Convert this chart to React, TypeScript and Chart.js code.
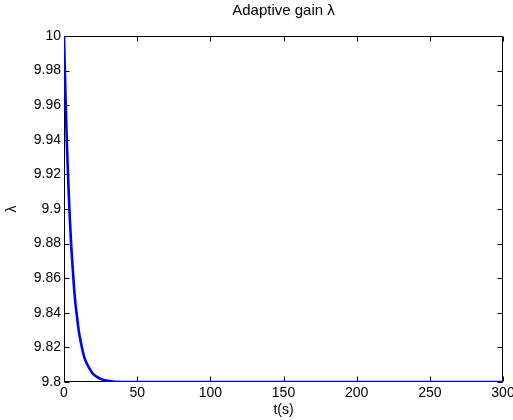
import React, { useEffect, useRef } from "react";
import { Chart, registerables } from "chart.js";

Chart.register(...registerables);

const titleText = "Adaptive gain λ";
const xLabel = "t(s)";
const yLabel = "λ";

const tValues = [0, 1, 2, 3, 4, 5, 6, 7, 8, 9, 10, 12, 14, 16, 18, 20, 25, 30, 40, 300];
const lambdaValues = [
  10, 9.966, 9.937, 9.914, 9.894, 9.878, 9.865, 9.853, 9.844, 9.837, 9.83, 9.821, 9.814, 9.81,
  9.807, 9.8045, 9.8018, 9.8007, 9.8, 9.8,
];

const xMin = 0;
const xMax = 300;
const xStep = 50;
const yMin = 9.8;
const yMax = 10;
const yStep = 0.02;

const FONT = '"Liberation Sans", Arial, Helvetica, sans-serif';

const framePlugin = {
  id: "matlabFrame",
  beforeDatasetsDraw(chart: any) {
    const { ctx, chartArea, scales } = chart;
    const { left, right, top, bottom } = chartArea;
    const l = Math.round(left) + 0.5;
    const r = Math.round(right) - 0.5;
    const t = Math.round(top) + 0.5;
    const b = Math.round(bottom) - 0.5;
    ctx.save();
    ctx.strokeStyle = "#000";
    ctx.lineWidth = 1;
    ctx.strokeRect(l, t, r - l, b - t);
    const len = 5;
    ctx.beginPath();
    scales.x.ticks.forEach((tk: any) => {
      const px = Math.round(scales.x.getPixelForValue(tk.value)) + 0.5;
      ctx.moveTo(px, b);
      ctx.lineTo(px, b - len);
      ctx.moveTo(px, t);
      ctx.lineTo(px, t + len);
    });
    scales.y.ticks.forEach((tk: any) => {
      const py = Math.round(scales.y.getPixelForValue(tk.value)) + 0.5;
      ctx.moveTo(l, py);
      ctx.lineTo(l + len, py);
      ctx.moveTo(r, py);
      ctx.lineTo(r - len, py);
    });
    ctx.stroke();
    ctx.restore();
  },
  afterDraw(chart: any) {
    const { ctx, chartArea } = chart;
    ctx.save();
    ctx.fillStyle = "#000";
    ctx.font = `15px ${FONT}`;
    ctx.textAlign = "center";
    ctx.textBaseline = "middle";
    ctx.fillText(titleText, (chartArea.left + chartArea.right) / 2, 11);
    ctx.restore();
  },
};

export default function App() {
  const canvasRef = useRef<HTMLCanvasElement | null>(null);

  useEffect(() => {
    if (!canvasRef.current) return;
    const data = tValues.map((t, i) => ({ x: t, y: lambdaValues[i] }));
    const chart = new Chart(canvasRef.current, {
      type: "line",
      data: {
        datasets: [
          {
            data,
            borderColor: "#0000ff",
            borderWidth: 2.6,
            pointRadius: 0,
            fill: false,
            cubicInterpolationMode: "monotone",
          },
        ],
      },
      options: {
        animation: false,
        responsive: false,
        devicePixelRatio: 1,
        layout: { padding: { left: 0, right: 10, top: 36, bottom: 0 } },
        plugins: {
          legend: { display: false },
          title: { display: false },
          tooltip: { enabled: false },
        },
        scales: {
          x: {
            type: "linear",
            min: xMin,
            max: xMax,
            border: { display: false },
            grid: { display: false, drawTicks: false },
            ticks: {
              stepSize: xStep,
              padding: 3,
              maxRotation: 0,
              color: "#000",
              font: { family: FONT, size: 14 },
              callback: (v: any) => String(v),
            },
            title: {
              display: true,
              text: xLabel,
              color: "#000",
              font: { family: FONT, size: 14 },
              padding: { top: 0, bottom: 1 },
            },
            afterFit: (scale: any) => {
              scale.height = 38;
              scale.paddingRight = 0;
              scale.paddingLeft = 0;
            },
          },
          y: {
            type: "linear",
            min: yMin,
            max: yMax,
            border: { display: false },
            grid: { display: false, drawTicks: false },
            ticks: {
              stepSize: yStep,
              padding: 3,
              color: "#000",
              font: { family: FONT, size: 14 },
              callback: (v: any) => String(Number(Number(v).toFixed(2))),
            },
            title: {
              display: true,
              text: yLabel,
              color: "#000",
              font: { family: FONT, size: 14 },
              padding: { top: 4, bottom: 0 },
            },
            afterFit: (scale: any) => {
              scale.width = 64;
              scale.paddingTop = 0;
              scale.paddingBottom = 0;
            },
          },
        },
      },
      plugins: [framePlugin],
    });
    return () => chart.destroy();
  }, []);

  return (
    <div style={{ position: "absolute", left: 0, top: 0, width: 513, height: 420, background: "#fff" }}>
      <canvas ref={canvasRef} width={513} height={420} style={{ display: "block" }} />
    </div>
  );
}
